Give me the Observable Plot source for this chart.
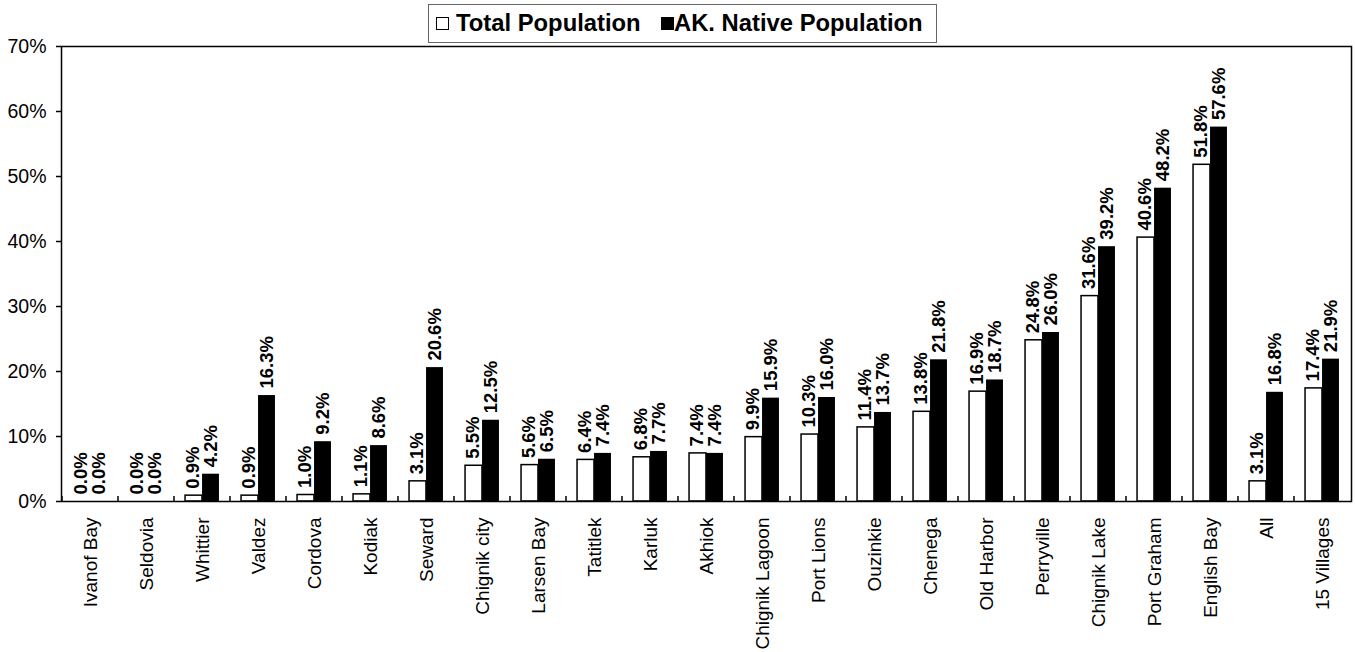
<!DOCTYPE html>
<html><head><meta charset="utf-8">
<script src="https://cdn.jsdelivr.net/npm/d3@7"></script>
<script src="https://cdn.jsdelivr.net/npm/@observablehq/plot@0.6"></script>
<style>
body{margin:0;background:#fff;font-family:Arial,"Liberation Sans",sans-serif;}
#wrap{position:relative;width:1355px;height:652px;}
#legend{position:absolute;left:428px;top:4px;width:509px;height:39px;border:1.5px solid #666;box-sizing:border-box;background:#fff;font-weight:bold;font-size:23.8px;color:#000;white-space:nowrap;z-index:2;}
#legend .sw{position:absolute;top:12px;width:13px;height:13px;border:1.2px solid #000;box-sizing:border-box;}
#legend .lb{position:absolute;top:5px;line-height:26px;}
#chart svg{display:block;}
</style></head><body>
<div id="wrap">
<div id="legend">
  <span class="sw" style="left:7px;background:#fff"></span><span class="lb" style="left:27px">Total Population</span>
  <span class="sw" style="left:232px;background:#000"></span><span class="lb" style="left:245px">AK. Native Population</span>
</div>
<div id="chart"></div>
</div>
<script>
const categories = ["Ivanof Bay","Seldovia","Whittier","Valdez","Cordova","Kodiak","Seward","Chignik city","Larsen Bay","Tatitlek","Karluk","Akhiok","Chignik Lagoon","Port Lions","Ouzinkie","Chenega","Old Harbor","Perryville","Chignik Lake","Port Graham","English Bay","All","15 Villages"];
const totalPct  = [0.0,0.0,0.9,0.9,1.0,1.1,3.1,5.5,5.6,6.4,6.8,7.4,9.9,10.3,11.4,13.8,16.9,24.8,31.6,40.6,51.8,3.1,17.4];
const nativePct = [0.0,0.0,4.2,16.3,9.2,8.6,20.6,12.5,6.5,7.4,7.7,7.4,15.9,16.0,13.7,21.8,18.7,26.0,39.2,48.2,57.6,16.8,21.9];
const seriesNames = ["Total Population","AK. Native Population"];
const yTicks = [0,10,20,30,40,50,60,70];

const total = categories.map((c,i)=>({cat:c, series:seriesNames[0], v: totalPct[i]/100}));
const native = categories.map((c,i)=>({cat:c, series:seriesNames[1], v: nativePct[i]/100}));

const W = 1355, H = 652;
const mL = 61, mR = 4, mT = 46, mB = 151;
const bw = (W - mL - mR) / categories.length;
const barW = 17;
const fmt = d => d3.format(".1f")(d.v*100) + "%";

function boundaryTicks(index, scales, values, dims) {
  const x = scales.x, y = scales.y;
  const g = d3.create("svg:g").attr("stroke","#000").attr("stroke-width",1.5);
  const y0 = y(0);
  categories.forEach((c)=>{
    const xs = x(c);
    g.append("line").attr("x1",xs).attr("x2",xs).attr("y1",y0).attr("y2",y0-5);
  });
  return g.node();
}

const chart = Plot.plot({
  width: W, height: H,
  marginLeft: mL, marginRight: mR, marginTop: mT, marginBottom: mB,
  style: {fontFamily: 'Arial, "Liberation Sans", sans-serif', background: "#fff", color: "#000"},
  x: {domain: categories, padding: 0, label: null},
  y: {domain: [0, 0.7], label: null},
  marks: [
    Plot.barY(total, {x:"cat", y:"v", fill:"#fff", stroke:"#000", strokeWidth:1.5, insetLeft: bw/2 - barW, insetRight: bw/2}),
    Plot.barY(native, {x:"cat", y:"v", fill:"#000", insetLeft: bw/2, insetRight: bw/2 - barW}),
    Plot.text(total, {x:"cat", y:"v", text: fmt, rotate:-90, textAnchor:"start", dx: -barW/2 - 1, dy: -7, fontWeight:"bold", fontSize:18.5, fill:"#000"}),
    Plot.text(native, {x:"cat", y:"v", text: fmt, rotate:-90, textAnchor:"start", dx: barW/2, dy: -7, fontWeight:"bold", fontSize:18.5, fill:"#000"}),
    boundaryTicks,
    Plot.frame({stroke:"#000", strokeWidth:1.5}),
    Plot.axisY({ticks: yTicks.map(t=>t/100), tickFormat: d => Math.round(d*100) + "%", tickSize: 5, tickPadding: 10, fontSize: 19.5, strokeWidth: 1.5}),
    Plot.axisX({tickSize: 0, tickRotate: -90, tickPadding: 16, fontSize: 19})
  ]
});
document.getElementById("chart").appendChild(chart);
</script>
</body></html>
